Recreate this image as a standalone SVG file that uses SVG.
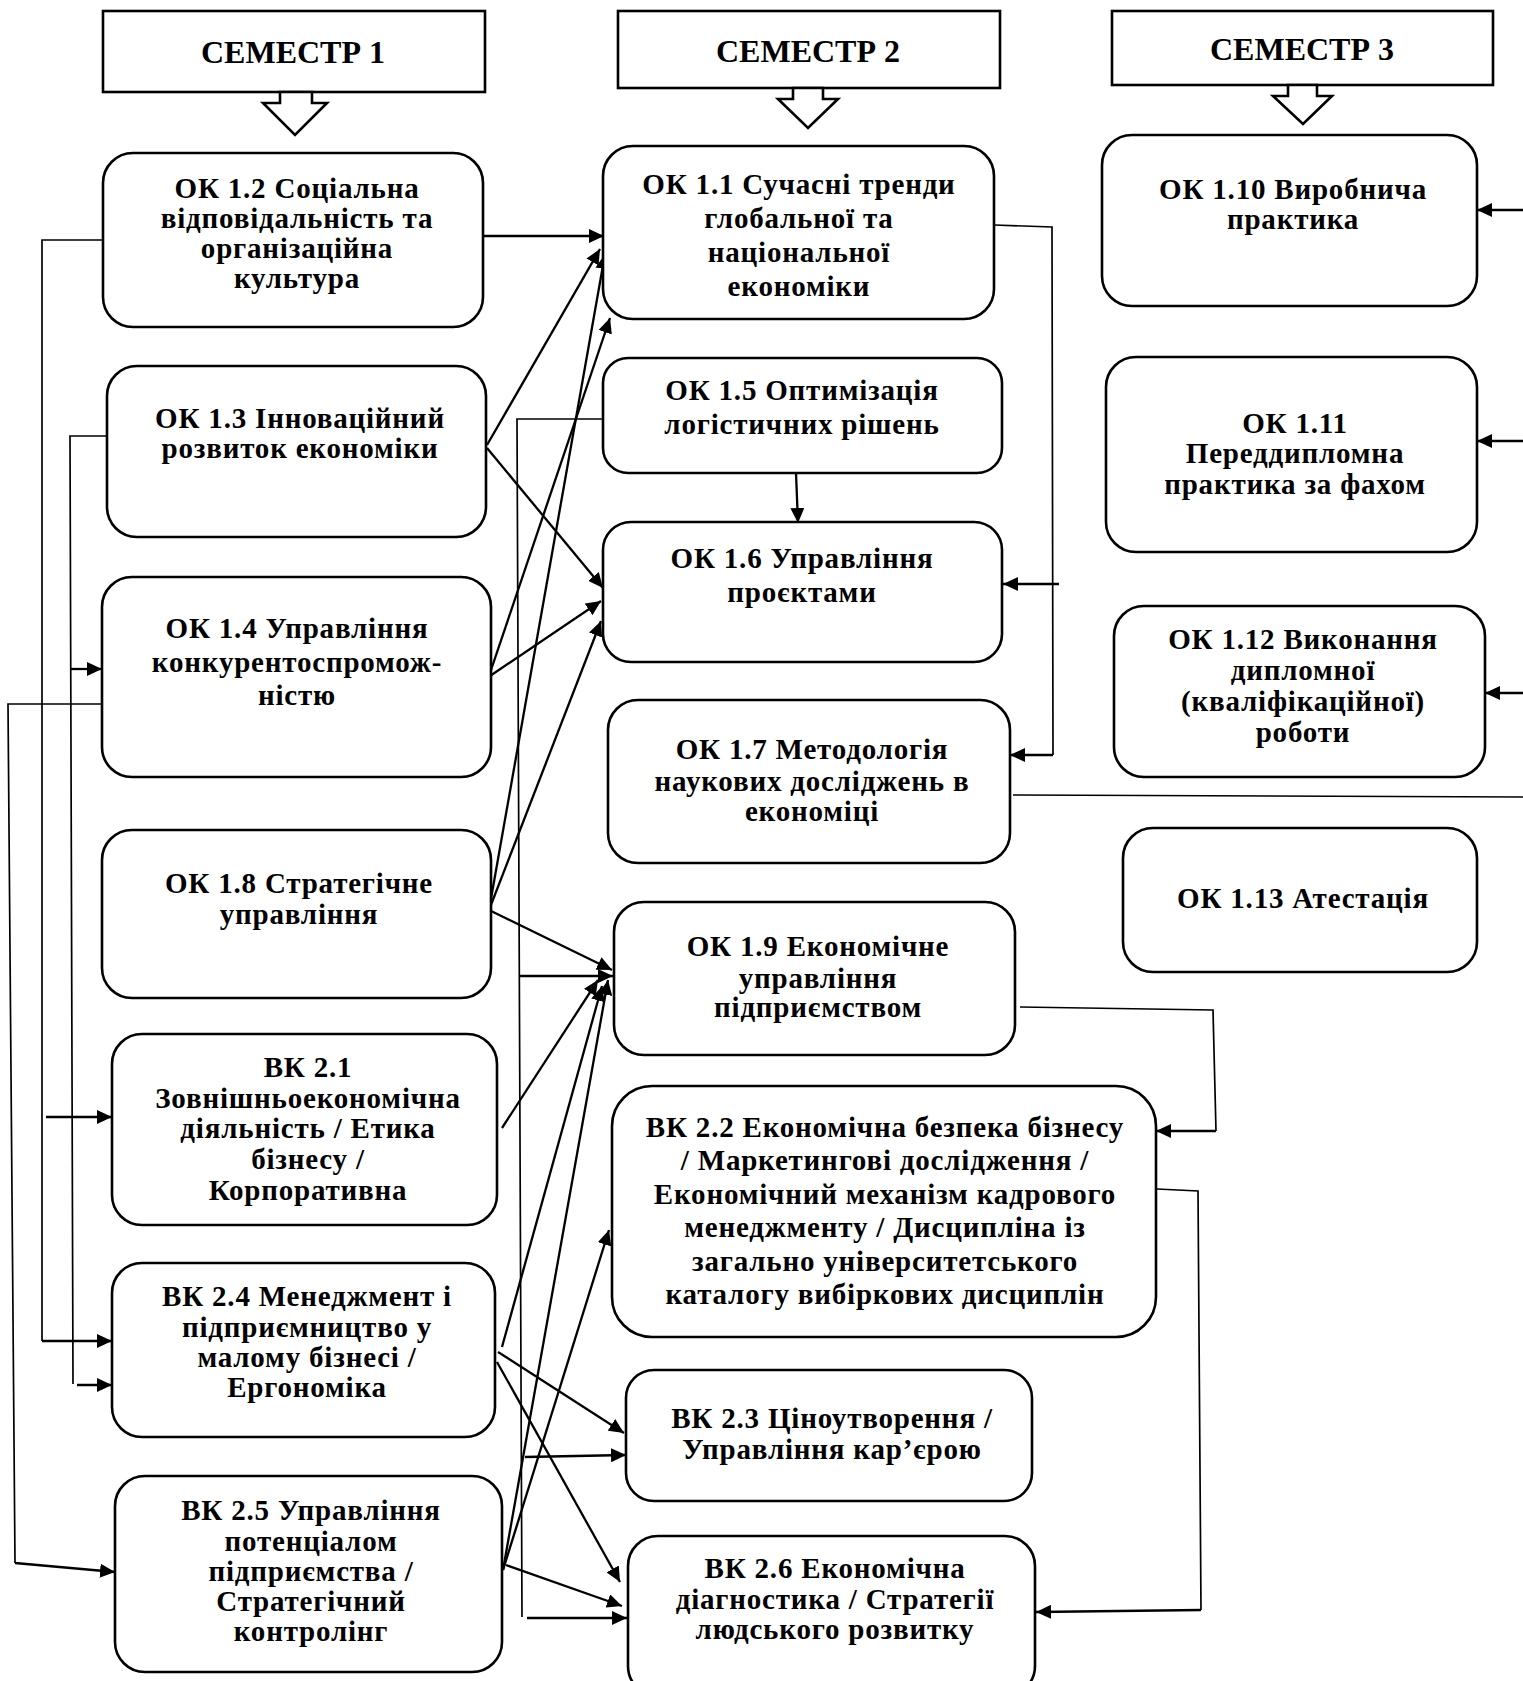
<svg xmlns="http://www.w3.org/2000/svg" width="1523" height="1681" viewBox="0 0 1523 1681">
<style>
.box{fill:#fff;stroke:#000;stroke-width:2.6}
.sem{fill:#fff;stroke:#000;stroke-width:2.6}
.t{font-family:"Liberation Serif","Times New Roman",serif;font-weight:bold;font-size:29px;letter-spacing:0.8px;fill:#000;text-anchor:middle}
.st{font-family:"Liberation Serif","Times New Roman",serif;font-weight:bold;font-size:32px;fill:#000;text-anchor:middle}
.a{fill:none;stroke:#000;stroke-width:2.3;marker-end:url(#ah)}
.l{fill:none;stroke:#000;stroke-width:1.7}
</style>
<defs>
<marker id="ah" markerUnits="userSpaceOnUse" viewBox="0 0 15 14" refX="15" refY="7" markerWidth="15" markerHeight="14" orient="auto">
<path d="M0,0 L15,7 L0,14 z" fill="#000"/>
</marker>
</defs>
<rect width="1523" height="1681" fill="#fff"/>

<g id="sem1">
<rect class="sem" x="103" y="11" width="382" height="81"/>
<polygon class="sem" points="280,92 280,103 263,103 295,135 327,103 312,103 312,92"/>
<text class="st" x="293" y="63">СЕМЕСТР 1</text>
</g>
<g id="sem2">
<rect class="sem" x="618" y="11" width="382" height="77"/>
<polygon class="sem" points="793,88 793,99 778,99 808,128 838,99 823,99 823,88"/>
<text class="st" x="808" y="62">СЕМЕСТР 2</text>
</g>
<g id="sem3">
<rect class="sem" x="1112" y="11" width="381" height="74"/>
<polygon class="sem" points="1288,85 1288,96 1273,96 1303,124 1332,96 1317,96 1317,85"/>
<text class="st" x="1302" y="60">СЕМЕСТР 3</text>
</g>

<g id="connectors">
<line class="a" x1="483" y1="236" x2="604" y2="236"/>
<line class="a" x1="487" y1="445" x2="600" y2="249"/>
<line class="a" x1="489" y1="910" x2="605" y2="254"/>
<line class="a" x1="490" y1="673" x2="610" y2="318"/>
<line class="a" x1="487" y1="448" x2="603" y2="588"/>
<line class="a" x1="490" y1="676" x2="601" y2="601"/>
<line class="a" x1="489" y1="910" x2="601" y2="621"/>
<line class="a" x1="796" y1="473" x2="798" y2="523"/>
<polyline class="l" points="994,225 1052,227 1053,755"/>
<line class="a" x1="1053" y1="755" x2="1010" y2="755"/>
<line class="a" x1="1059" y1="584" x2="1003" y2="584"/>
<line class="a" x1="489" y1="910" x2="612" y2="970"/>
<polyline class="l" points="603,419 517,419 522,1617"/>
<line class="a" x1="520" y1="976" x2="613" y2="976"/>
<line class="a" x1="525" y1="1457" x2="626" y2="1455"/>
<line class="a" x1="527" y1="1618" x2="627" y2="1618"/>
<line class="a" x1="502" y1="1128" x2="598" y2="980"/>
<line class="a" x1="502" y1="1347" x2="602" y2="986"/>
<line class="a" x1="503" y1="1570" x2="608" y2="980"/>
<line class="a" x1="503" y1="1570" x2="609" y2="1230"/>
<polyline class="l" points="1020,1007 1213,1010 1216,1131"/>
<line class="a" x1="1216" y1="1131" x2="1156" y2="1131"/>
<line class="a" x1="498" y1="1352" x2="624" y2="1433"/>
<line class="a" x1="497" y1="1362" x2="620" y2="1582"/>
<line class="a" x1="506" y1="1565" x2="622" y2="1606"/>
<polyline class="l" points="1157,1189 1198,1191 1201,1610"/>
<line class="a" x1="1201" y1="1610" x2="1036" y2="1612"/>
<polyline class="l" points="103,240 42,240 42,1341"/>
<line class="a" x1="42" y1="1341" x2="112" y2="1341"/>
<line class="a" x1="46" y1="1117" x2="112" y2="1117"/>
<polyline class="l" points="112,436 70,436 73,1384"/>
<line class="a" x1="77" y1="1385" x2="112" y2="1385"/>
<line class="a" x1="71" y1="669" x2="102" y2="669"/>
<polyline class="l" points="102,704 8,704 15,1563"/>
<line class="a" x1="15" y1="1563" x2="115" y2="1572"/>
<line class="l" x1="1013" y1="795" x2="1523" y2="797"/>
<line class="a" x1="1523" y1="210" x2="1477" y2="210"/>
<line class="a" x1="1523" y1="441" x2="1477" y2="441"/>
<line class="a" x1="1523" y1="693" x2="1485" y2="693"/>
</g>

<g id="ok12">
<rect class="box" x="103" y="153" width="380" height="174" rx="30"/>
<text class="t" x="297" y="198">ОК 1.2 Соціальна</text>
<text class="t" x="297" y="228">відповідальність та</text>
<text class="t" x="297" y="258">організаційна</text>
<text class="t" x="297" y="288">культура</text>
</g>
<g id="ok13">
<rect class="box" x="107" y="366" width="379" height="171" rx="30"/>
<text class="t" x="300" y="428">ОК 1.3 Інноваційний</text>
<text class="t" x="300" y="458">розвиток економіки</text>
</g>
<g id="ok14">
<rect class="box" x="102" y="577" width="389" height="200" rx="30"/>
<text class="t" x="297" y="638">ОК 1.4 Управління</text>
<text class="t" x="297" y="672">конкурентоспромож-</text>
<text class="t" x="297" y="705">ністю</text>
</g>
<g id="ok18">
<rect class="box" x="102" y="830" width="389" height="168" rx="30"/>
<text class="t" x="299" y="893">ОК 1.8 Стратегічне</text>
<text class="t" x="299" y="924">управління</text>
</g>
<g id="vk21">
<rect class="box" x="112" y="1034" width="385" height="191" rx="30"/>
<text class="t" x="308" y="1077">ВК 2.1</text>
<text class="t" x="308" y="1108">Зовнішньоекономічна</text>
<text class="t" x="308" y="1138">діяльність / Етика</text>
<text class="t" x="308" y="1169">бізнесу /</text>
<text class="t" x="308" y="1200">Корпоративна</text>
</g>
<g id="vk24">
<rect class="box" x="112" y="1263" width="383" height="174" rx="30"/>
<text class="t" x="307" y="1306">ВК 2.4 Менеджмент і</text>
<text class="t" x="307" y="1337">підприємництво у</text>
<text class="t" x="307" y="1367">малому бізнесі /</text>
<text class="t" x="307" y="1397">Ергономіка</text>
</g>
<g id="vk25">
<rect class="box" x="115" y="1476" width="387" height="196" rx="30"/>
<text class="t" x="311" y="1520">ВК 2.5 Управління</text>
<text class="t" x="311" y="1551">потенціалом</text>
<text class="t" x="311" y="1581">підприємства /</text>
<text class="t" x="311" y="1611">Стратегічний</text>
<text class="t" x="311" y="1641">контролінг</text>
</g>

<g id="ok11">
<rect class="box" x="603" y="146" width="391" height="173" rx="30"/>
<text class="t" x="799" y="194">ОК 1.1 Сучасні тренди</text>
<text class="t" x="799" y="228">глобальної та</text>
<text class="t" x="799" y="262">національної</text>
<text class="t" x="799" y="296">економіки</text>
</g>
<g id="ok15">
<rect class="box" x="603" y="358" width="399" height="115" rx="25"/>
<text class="t" x="802" y="400">ОК 1.5 Оптимізація</text>
<text class="t" x="802" y="434">логістичних рішень</text>
</g>
<g id="ok16">
<rect class="box" x="603" y="522" width="399" height="140" rx="28"/>
<text class="t" x="802" y="568">ОК 1.6 Управління</text>
<text class="t" x="802" y="602">проєктами</text>
</g>
<g id="ok17">
<rect class="box" x="608" y="700" width="402" height="163" rx="30"/>
<text class="t" x="812" y="759">ОК 1.7 Методологія</text>
<text class="t" x="812" y="791">наукових досліджень в</text>
<text class="t" x="812" y="821">економіці</text>
</g>
<g id="ok19">
<rect class="box" x="614" y="902" width="401" height="153" rx="30"/>
<text class="t" x="818" y="956">ОК 1.9 Економічне</text>
<text class="t" x="818" y="988">управління</text>
<text class="t" x="818" y="1017">підприємством</text>
</g>
<g id="vk22">
<rect class="box" x="612" y="1086" width="544" height="251" rx="40"/>
<text class="t" x="885" y="1137">ВК 2.2 Економічна безпека бізнесу</text>
<text class="t" x="885" y="1170">/ Маркетингові дослідження /</text>
<text class="t" x="885" y="1204">Економічний механізм кадрового</text>
<text class="t" x="885" y="1237">менеджменту / Дисципліна із</text>
<text class="t" x="885" y="1271">загально університетського</text>
<text class="t" x="885" y="1304">каталогу вибіркових дисциплін</text>
</g>
<g id="vk23">
<rect class="box" x="626" y="1370" width="406" height="131" rx="28"/>
<text class="t" x="832" y="1428">ВК 2.3 Ціноутворення /</text>
<text class="t" x="832" y="1459">Управління кар’єрою</text>
</g>
<g id="vk26">
<rect class="box" x="628" y="1536" width="407" height="160" rx="30"/>
<text class="t" x="835" y="1578">ВК 2.6 Економічна</text>
<text class="t" x="835" y="1609">діагностика / Стратегії</text>
<text class="t" x="835" y="1639">людського розвитку</text>
</g>

<g id="ok110">
<rect class="box" x="1102" y="135" width="375" height="171" rx="30"/>
<text class="t" x="1293" y="199">ОК 1.10 Виробнича</text>
<text class="t" x="1293" y="229">практика</text>
</g>
<g id="ok111">
<rect class="box" x="1106" y="357" width="371" height="195" rx="30"/>
<text class="t" x="1295" y="433">ОК 1.11</text>
<text class="t" x="1295" y="463">Переддипломна</text>
<text class="t" x="1295" y="494">практика за фахом</text>
</g>
<g id="ok112">
<rect class="box" x="1114" y="606" width="371" height="171" rx="30"/>
<text class="t" x="1303" y="649">ОК 1.12 Виконання</text>
<text class="t" x="1303" y="680">дипломної</text>
<text class="t" x="1303" y="711">(кваліфікаційної)</text>
<text class="t" x="1303" y="742">роботи</text>
</g>
<g id="ok113">
<rect class="box" x="1123" y="828" width="354" height="144" rx="30"/>
<text class="t" x="1303" y="908">ОК 1.13 Атестація</text>
</g>
</svg>
